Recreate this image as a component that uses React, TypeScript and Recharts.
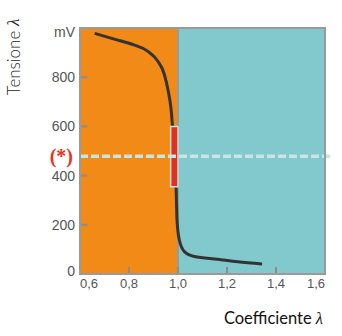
import React from 'react';
import { ComposedChart, Line, XAxis, YAxis, ReferenceArea, ReferenceLine } from 'recharts';

const lambdaValues = [0.66, 0.74, 0.82, 0.876, 0.917, 0.944, 0.96, 0.971, 0.977, 0.985, 0.992, 0.996, 1.005, 1.026, 1.067, 1.162, 1.244, 1.343];
const voltageValues = [978, 955, 931, 906, 866, 812, 744, 676, 608, 480, 356, 220, 140, 91, 71, 60, 50, 41];
const xTicks = [0.6, 0.8, 1.0, 1.2, 1.4, 1.6];
const yTicks = [0, 200, 400, 600, 800, 1000];
const yTickLabels = ['0', '200', '400', '600', '800', 'mV'];
const xDomain = [0.6, 1.6];
const yDomain = [0, 1000];
const stoichiometric = 1.0;
const thresholdVoltage = 479;
const thresholdEnd = 1.62;
const windowLambda = [0.97, 1.0];
const windowVoltage = [355, 600];

const data = lambdaValues.map((l, i) => ({ lambda: l, mv: voltageValues[i] }));

const tickFont = '"Liberation Sans", Arial, sans-serif';
const titleFont = 'Lato, "Open Sans", sans-serif';
const TICK_GAP = 5;
const TICK_COLOR = '#8c8c8c';
// inward tick size expressed in axis units (about 7px long, 2px thick)
const TICK_LEN_X = 0.03;
const TICK_HALF_X = 0.004;
const TICK_LEN_Y = 28;
const TICK_HALF_Y = 4;

const XTick = (props: any) => {
  const { x, y, payload, index } = props;
  const v = payload.value as number;
  const label = v.toFixed(1).replace('.', ',');
  let anchor = 'middle';
  if (index === 0) anchor = 'start';
  if (index === xTicks.length - 1) anchor = 'end';
  return (
    <text x={x} y={y} dy="0.71em" textAnchor={anchor} fontSize={13} fontFamily={tickFont} fill="#555">
      {label}
    </text>
  );
};

const YTick = (props: any) => {
  const { x, y, payload } = props;
  const idx = yTicks.indexOf(payload.value);
  const label = yTickLabels[idx];
  let dy = 5;
  if (payload.value === 1000) dy = 9;
  if (payload.value === 0) dy = 2;
  return (
    <text x={x} y={y} dy={dy} textAnchor="end" fontSize={14} fontFamily={tickFont} fill="#555">
      {label}
    </text>
  );
};

const YLabel = (props: any) => {
  const vb = props.viewBox || { x: 0, y: 28 };
  const cx = vb.x + 13;
  const cy = vb.y + 29;
  return (
    <text x={cx} y={cy} transform={`rotate(-90 ${cx} ${cy})`} textAnchor="middle" dominantBaseline="central" fontSize={17} fontWeight={300} fontFamily={titleFont} fill="#222">
      Tensione <tspan fontFamily="serif" fontStyle="italic">λ</tspan>
    </text>
  );
};

const XLabel = (props: any) => {
  const vb = props.viewBox || { x: 80, y: 274, width: 245 };
  return (
    <text x={vb.x + vb.width - 2} y={vb.y + 50} textAnchor="end" fontSize={16.5} fontFamily={titleFont} fill="#111">
      Coefficiente <tspan fontFamily="serif" fontStyle="italic">λ</tspan>
    </text>
  );
};

const StarLabel = (props: any) => {
  const vb = props.viewBox || { x: 80, y: 156 };
  return (
    <text x={vb.x - 7} y={vb.y} dominantBaseline="central" textAnchor="end" fontSize={20} fontWeight="bold" fontFamily='"Liberation Serif", "DejaVu Serif", serif' fill="#E5331D">
      (*)
    </text>
  );
};

export default function App() {
  return (
    <div style={{ position: 'absolute', left: 0, top: 0, width: 342, height: 336, background: '#fff' }}>
      <ComposedChart width={342} height={336} data={data} margin={{ top: 28, right: 17, bottom: 32, left: 0 }}>
        <ReferenceArea zIndex={-200} x1={xDomain[0]} x2={stoichiometric} y1={yDomain[0]} y2={yDomain[1]} fill="#F18A16" fillOpacity={1} stroke="none" />
        <ReferenceArea zIndex={-200} x1={stoichiometric} x2={xDomain[1]} y1={yDomain[0]} y2={yDomain[1]} fill="#82C9CD" fillOpacity={1} stroke="none" />
        <ReferenceLine zIndex={-150} x={stoichiometric} stroke="#9a9a9a" strokeWidth={2} />
        <XAxis
          dataKey="lambda"
          type="number"
          domain={xDomain}
          ticks={xTicks}
          interval={0}
          allowDataOverflow
          axisLine={false}
          tickLine={false}
          tickSize={0}
          tickMargin={TICK_GAP}
          tick={<XTick />}
          height={30}
          label={<XLabel />}
        />
        <YAxis
          type="number"
          domain={yDomain}
          ticks={yTicks}
          interval={0}
          allowDataOverflow
          axisLine={false}
          tickLine={false}
          tickSize={0}
          tickMargin={TICK_GAP}
          tick={<YTick />}
          width={80}
          label={<YLabel />}
        />
        <Line dataKey="mv" type="monotone" stroke="#333" strokeWidth={3} dot={false} isAnimationActive={false} />
        {yTicks.map((v) => (
          <ReferenceArea
            key={`yt${v}`}
            zIndex={440}
            ifOverflow="visible"
            x1={xDomain[0]}
            x2={xDomain[0] + TICK_LEN_X}
            y1={v - TICK_HALF_Y}
            y2={v + TICK_HALF_Y}
            fill={TICK_COLOR}
            fillOpacity={1}
            stroke="none"
          />
        ))}
        {xTicks.map((v) => (
          <ReferenceArea
            key={`xt${v}`}
            zIndex={440}
            ifOverflow="visible"
            x1={v - TICK_HALF_X}
            x2={v + TICK_HALF_X}
            y1={yDomain[0]}
            y2={yDomain[0] + TICK_LEN_Y}
            fill={TICK_COLOR}
            fillOpacity={1}
            stroke="none"
          />
        ))}
        <ReferenceArea zIndex={450} x1={windowLambda[0]} x2={windowLambda[1]} y1={windowVoltage[0]} y2={windowVoltage[1]} fill="#E3301E" fillOpacity={1} stroke="#c4e2e2" strokeWidth={1.5} />
        <ReferenceLine
          zIndex={460}
          segment={[{ x: xDomain[0], y: thresholdVoltage }, { x: thresholdEnd, y: thresholdVoltage }]}
          ifOverflow="visible"
          stroke="#c8e5e5"
          strokeWidth={3.5}
          strokeDasharray="8 3"
          label={<StarLabel />}
        />
        <ReferenceArea zIndex={470} x1={xDomain[0]} x2={xDomain[1]} y1={yDomain[0]} y2={yDomain[1]} fill="none" stroke="#9a9a9a" strokeWidth={2} />
      </ComposedChart>
    </div>
  );
}
